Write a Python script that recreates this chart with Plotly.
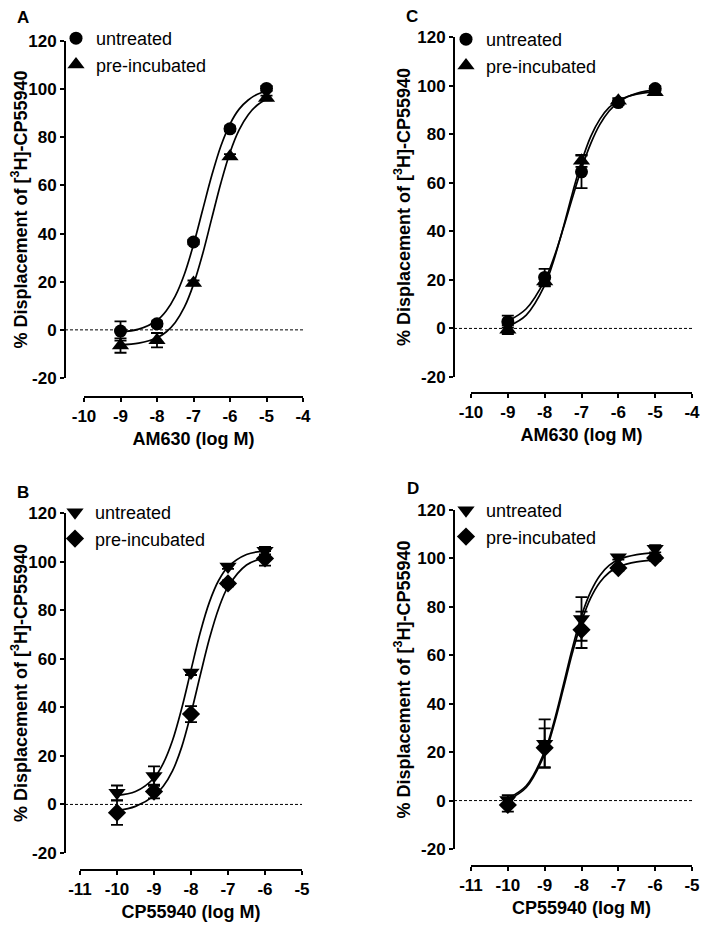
import plotly.graph_objects as go

# page is 709x925; the browser body keeps an 8px margin, so the figure is drawn 8px smaller
PAGE_W, PAGE_H, OFF = 709, 925, 8
W, H = PAGE_W - OFF, PAGE_H - OFF

# ---------------- data ----------------
am_x = [-9, -8, -7, -6, -5]
cp_x = [-10, -9, -8, -7, -6]

# Panel A (AM630)
A_unt_y = [-0.5, 2.5, 36.5, 83.5, 100.3]
A_unt_err = [4.0, 1.0, 1.0, 1.0, 1.0]
A_pre_y = [-6.5, -4.3, 19.5, 72.0, 96.3]
A_pre_err = [3.0, 3.0, 1.0, 1.0, 1.0]

# Panel C (AM630)
C_unt_y = [2.8, 21.0, 64.5, 93.0, 98.8]
C_unt_err = [2.5, 3.5, 6.7, 1.0, 1.0]
C_pre_y = [-0.5, 19.3, 69.0, 93.8, 97.3]
C_pre_err = [1.8, 2.0, 2.5, 1.0, 1.0]

# Panel B (CP55940)
B_unt_y = [4.8, 11.7, 54.3, 98.0, 104.5]
B_unt_err = [3.0, 4.0, 1.0, 1.0, 1.5]
B_pre_y = [-3.4, 5.3, 37.2, 91.0, 101.3]
B_pre_err = [5.0, 2.8, 3.3, 1.2, 3.0]

# Panel D (CP55940)
D_unt_y = [0.2, 23.5, 75.0, 100.5, 104.0]
D_unt_err = [2.0, 10.0, 9.0, 1.0, 1.5]
D_pre_y = [-1.8, 21.8, 70.5, 96.0, 100.2]
D_pre_err = [2.8, 8.0, 7.5, 1.0, 1.2]

# fitted curves
am_curve_x = [-9, -8.5, -8, -7.75, -7.5, -7.25, -7, -6.75, -6.5, -6.25, -6, -5.75, -5.5, -5.25, -5]
A_unt_curve = [-0.9, 0.3, 3.9, 7.8, 14.0, 23.1, 35.4, 49.8, 64.1, 76.4, 85.5, 91.7, 95.5, 97.9, 99.2]
A_pre_curve = [-6.2, -5.5, -3.3, -0.9, 3.1, 9.4, 18.9, 31.5, 46.3, 61.0, 73.7, 83.1, 89.4, 93.4, 95.8]
C_unt_curve = [3.0, 8.1, 19.8, 29.2, 40.9, 53.6, 65.8, 76.1, 84.0, 89.5, 93.1, 95.4, 96.8, 97.7, 98.2]
C_pre_curve = [0.8, 5.5, 17.7, 28.2, 41.3, 55.5, 68.6, 79.0, 86.2, 91.0, 93.8, 95.5, 96.5, 97.1, 97.4]

cp_curve_x = [-10, -9.5, -9, -8.75, -8.5, -8.25, -8, -7.75, -7.5, -7.25, -7, -6.5, -6]
B_unt_curve = [3.7, 5.3, 10.9, 16.9, 26.3, 39.6, 55.3, 70.8, 83.4, 92.3, 97.8, 102.9, 104.4]
B_pre_curve = [-2.5, -0.8, 3.5, 7.5, 13.8, 23.7, 37.5, 53.2, 68.4, 80.8, 89.6, 98.6, 101.6]
D_unt_curve = [0.9, 6.1, 20.3, 32.4, 47.3, 62.8, 76.3, 86.3, 93.0, 97.1, 99.5, 101.6, 102.3]
D_pre_curve = [0.3, 5.4, 19.2, 31.1, 45.7, 60.8, 73.9, 83.7, 90.2, 94.2, 96.5, 98.6, 99.3]

y_ticks = [-20, 0, 20, 40, 60, 80, 100, 120]
am_ticks = [-10, -9, -8, -7, -6, -5, -4]
cp_ticks = [-11, -10, -9, -8, -7, -6, -5]

y_title = "% Displacement of [<sup>3</sup>H]-CP55940"
lbl_unt = "untreated"
lbl_pre = "pre-incubated"

# ---------------- layout geometry (page pixels) ----------------
panels = [
    dict(n="", letter="A", yx=65, yt=41, yb=378, xl=84, xr=303, xline=397, ticks=am_ticks,
         xtitle="AM630 (log M)", sym=("circle", "triangle-up"), px=am_x, cx=am_curve_x,
         uy=A_unt_y, ue=A_unt_err, py=A_pre_y, pe=A_pre_err, uc=A_unt_curve, pc=A_pre_curve,
         lx=77, ly=39, letx=23, lety=18, leg="legend"),
    dict(n="2", letter="B", yx=65, yt=513, yb=853, xl=80, xr=302, xline=870, ticks=cp_ticks,
         xtitle="CP55940 (log M)", sym=("triangle-down", "diamond"), px=cp_x, cx=cp_curve_x,
         uy=B_unt_y, ue=B_unt_err, py=B_pre_y, pe=B_pre_err, uc=B_unt_curve, pc=B_pre_curve,
         lx=76, ly=513, letx=23, lety=492, leg="legend2"),
    dict(n="3", letter="C", yx=454, yt=37, yb=377, xl=471, xr=692, xline=393, ticks=am_ticks,
         xtitle="AM630 (log M)", sym=("circle", "triangle-up"), px=am_x, cx=am_curve_x,
         uy=C_unt_y, ue=C_unt_err, py=C_pre_y, pe=C_pre_err, uc=C_unt_curve, pc=C_pre_curve,
         lx=467, ly=40, letx=412, lety=17, leg="legend3"),
    dict(n="4", letter="D", yx=454, yt=510, yb=849, xl=471, xr=692, xline=866, ticks=cp_ticks,
         xtitle="CP55940 (log M)", sym=("triangle-down", "diamond"), px=cp_x, cx=cp_curve_x,
         uy=D_unt_y, ue=D_unt_err, py=D_pre_y, pe=D_pre_err, uc=D_unt_curve, pc=D_pre_curve,
         lx=467, ly=511, letx=413, lety=488, leg="legend4"),
]

SIZES = {"circle": 13, "triangle-up": 15, "triangle-down": 15, "diamond": 14}

FONT = "Liberation Sans, Arial, Helvetica, sans-serif"
TICKFONT = dict(family=FONT, size=17, color="black")
TITLEFONT = dict(family=FONT, size=18, color="black")


def fx(px):
    return (px - OFF) / W


def fy(py):
    return 1 - (py - OFF) / H


def bold(v):
    return "<b>%s</b>" % str(v)


fig = go.Figure()
layout = dict(template="none", width=W, height=H, margin=dict(l=0, r=0, t=0, b=0, pad=0),
              autosize=False, paper_bgcolor="white", plot_bgcolor="rgba(0,0,0,0)",
              font=dict(family=FONT, color="black"), showlegend=True,
              shapes=[], annotations=[])

axis_common = dict(showline=True, linecolor="black", linewidth=1.8, ticks="outside",
                   ticklen=4, tickwidth=1.6, tickcolor="black", showgrid=False,
                   zeroline=False, automargin=False, tickfont=TICKFONT)

for p in panels:
    n = p["n"]
    xa, ya = "x" + n, "y" + n
    for cy in (p["uc"], p["pc"]):
        fig.add_trace(go.Scatter(x=p["cx"], y=cy, mode="lines",
                                 line=dict(color="black", width=1.7, shape="spline"),
                                 xaxis=xa, yaxis=ya, showlegend=False, hoverinfo="skip", cliponaxis=False))
    for name, yy, ee, sym in ((lbl_unt, p["uy"], p["ue"], p["sym"][0]),
                              (lbl_pre, p["py"], p["pe"], p["sym"][1])):
        fig.add_trace(go.Scatter(x=p["px"], y=yy, mode="markers", name=name,
                                 marker=dict(symbol=sym, size=SIZES[sym], color="black", line=dict(width=0)),
                                 error_y=dict(type="data", array=ee, visible=True, color="black",
                                              thickness=1.8, width=6),
                                 xaxis=xa, yaxis=ya, legend=p["leg"], legendgroup=p["leg"] + name,
                                 cliponaxis=False))
    layout["xaxis" + n] = dict(axis_common, domain=[fx(p["xl"]), fx(p["xr"])],
                               range=[p["ticks"][0], p["ticks"][-1]], tickvals=p["ticks"],
                               ticktext=[bold(t) for t in p["ticks"]],
                               anchor="free", position=fy(p["xline"]),
                               title=dict(text=bold(p["xtitle"]), standoff=6, font=TITLEFONT))
    layout["yaxis" + n] = dict(axis_common, domain=[fy(p["yb"]), fy(p["yt"])],
                               range=[-20, 120], tickvals=y_ticks,
                               ticktext=[bold(t) for t in y_ticks],
                               anchor="free", position=fx(p["yx"]),
                               title=dict(text=bold(y_title), standoff=1, font=TITLEFONT))
    layout["shapes"].append(dict(type="line", xref="paper", yref=ya, x0=fx(p["yx"]), x1=fx(p["xr"]),
                                 y0=0, y1=0, line=dict(color="black", width=1, dash="3px,2px"),
                                 layer="below"))
    layout["annotations"].append(dict(text=bold(p["letter"]), xref="paper", yref="paper",
                                      x=fx(p["letx"]), y=fy(p["lety"]), showarrow=False,
                                      xanchor="center", yanchor="middle",
                                      font=dict(family=FONT, size=17, color="black")))
    layout[p["leg"]] = dict(x=fx(p["lx"] - 21), y=fy(p["ly"] - 19), xanchor="left", yanchor="top",
                            bgcolor="rgba(0,0,0,0)", borderwidth=0,
                            font=dict(family=FONT, size=18, color="black"),
                            tracegroupgap=0, itemsizing="trace")

fig.update_layout(**layout)
fig.write_html("out.html")
